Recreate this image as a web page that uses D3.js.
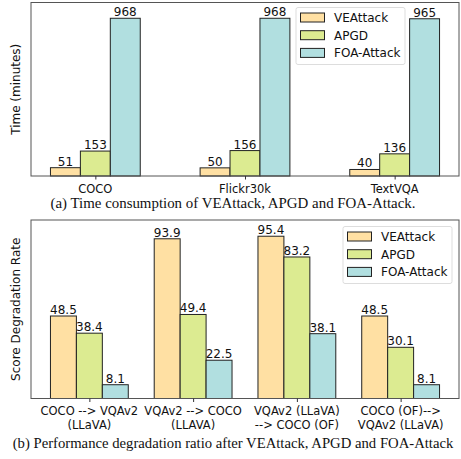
<!DOCTYPE html>
<html>
<head>
<meta charset="utf-8">
<script src="https://cdn.jsdelivr.net/npm/d3@7"></script>
<style>
  body { margin: 0; background: #fff; }
  svg text { font-family: "DejaVu Sans", sans-serif; fill: #111; }
  .caption { font-family: "Liberation Serif", "Times New Roman", serif; }
</style>
</head>
<body>
<div id="wrapper"></div>
<script>
const methods = ["VEAttack", "APGD", "FOA-Attack"]
const colors = ["#ffe0a3", "#dceb91", "#b1dfe0"]

// (a) time consumption
const timeDatasets = ["COCO", "Flickr30k", "TextVQA"]
const timeVEAttack = [51, 50, 40]
const timeAPGD = [153, 156, 136]
const timeFOA = [968, 968, 965]

// (b) score degradation
const transferLines = [
    ["COCO --> VQAv2", "(LLaVA)"],
    ["VQAv2 --> COCO", "(LLAVA)"],
    ["VQAv2 (LLaVA)", "--> COCO (OF)"],
    ["COCO (OF)-->", "VQAv2 (LLaVA)"],
]
const degVEAttack = [48.5, 93.9, 95.4, 48.5]
const degAPGD = [38.4, 49.4, 83.2, 30.1]
const degFOA = [8.1, 22.5, 38.1, 8.1]

const svg = d3.select("#wrapper")
    .append("svg")
        .attr("width", 461)
        .attr("height", 459)

function drawPanel(opts) {
    const {top, bottom, left, right, labels, series, barW, yLabel, caption, captionY, captionSize, legend, fmt} = opts
    const n = labels.length
    const g = svg.append("g")

    // matplotlib-like x limits: data extent with 5% margin
    const half = barW * series.length / 2
    const lo = -half, hi = (n - 1) + half
    const pad = (hi - lo) * 0.05
    const xScale = d3.scaleLinear()
        .domain([lo - pad, hi + pad])
        .range([left, right])

    const ymax = d3.max(series.flat()) * 1.1
    const yScale = d3.scaleLinear()
        .domain([0, ymax])
        .range([bottom, top])

    series.forEach((vals, si) => {
        const offset = -half + barW * si
        g.append("g").selectAll("rect")
            .data(vals)
            .join("rect")
                .attr("x", (d, i) => xScale(i + offset))
                .attr("y", d => yScale(d))
                .attr("width", xScale(barW) - xScale(0))
                .attr("height", d => bottom - yScale(d))
                .attr("fill", colors[si])
                .attr("stroke", "#222")
                .attr("stroke-width", 1)

        g.append("g").selectAll("text")
            .data(vals)
            .join("text")
                .attr("x", (d, i) => xScale(i + offset + barW / 2))
                .attr("y", d => yScale(d) - 2)
                .attr("text-anchor", "middle")
                .attr("font-size", 12)
                .text(fmt)
    })

    // frame
    g.append("rect")
        .attr("x", left)
        .attr("y", top)
        .attr("width", right - left)
        .attr("height", bottom - top)
        .attr("fill", "none")
        .attr("stroke", "#555")
        .attr("stroke-width", 1)

    // x axis ticks and labels
    const xAxis = g.append("g")
        .attr("transform", `translate(0,${bottom})`)
        .call(d3.axisBottom(xScale).tickValues(d3.range(n)).tickSize(3.5).tickFormat(""))
    xAxis.select(".domain").remove()
    xAxis.selectAll("line").attr("stroke", "#333")

    labels.forEach((lab, i) => {
        const lines = Array.isArray(lab) ? lab : [lab]
        lines.forEach((t, k) => {
            g.append("text")
                .attr("x", xScale(i))
                .attr("y", bottom + 16.5 + k * 13.5)
                .attr("text-anchor", "middle")
                .attr("font-size", 11.5)
                .text(t)
        })
    })

    g.append("text")
        .attr("transform", `translate(20,${(top + bottom) / 2}) rotate(-90)`)
        .attr("text-anchor", "middle")
        .attr("font-size", 12)
        .text(yLabel)

    g.append("text")
        .attr("class", "caption")
        .attr("x", 233)
        .attr("y", captionY)
        .attr("text-anchor", "middle")
        .attr("font-size", captionSize)
        .text(caption)

    // legend
    const lg = g.append("g")
    lg.append("rect")
        .attr("x", legend.x)
        .attr("y", legend.y)
        .attr("width", legend.w)
        .attr("height", 57)
        .attr("rx", 2)
        .attr("fill", "#fff")
        .attr("fill-opacity", 0.85)
        .attr("stroke", "#ddd")
    methods.forEach((m, i) => {
        const cy = legend.y + 10 + i * 17.7
        lg.append("rect")
            .attr("x", legend.x + 4.5)
            .attr("y", cy - 4.5)
            .attr("width", 24)
            .attr("height", 9)
            .attr("fill", colors[i])
            .attr("stroke", "#222")
        lg.append("text")
            .attr("x", legend.x + 38)
            .attr("y", cy + 4.5)
            .attr("font-size", 12)
            .text(m)
    })
}

drawPanel({
    top: 2.5, bottom: 176, left: 31, right: 459,
    labels: timeDatasets,
    series: [timeVEAttack, timeAPGD, timeFOA],
    barW: 0.2,
    yLabel: "Time (minutes)",
    caption: "(a) Time consumption of VEAttack, APGD and FOA-Attack.",
    captionY: 208,
    captionSize: 14.9,
    legend: {x: 296, y: 7.5, w: 109},
    fmt: d => d
})

drawPanel({
    top: 220, bottom: 398.5, left: 31, right: 459,
    labels: transferLines,
    series: [degVEAttack, degAPGD, degFOA],
    barW: 0.25,
    yLabel: "Score Degradation Rate",
    caption: "(b) Performance degradation ratio after VEAttack, APGD and FOA-Attack",
    captionY: 448,
    captionSize: 14.7,
    legend: {x: 343, y: 226.5, w: 109},
    fmt: d => d.toFixed(1)
})
</script>
</body>
</html>
